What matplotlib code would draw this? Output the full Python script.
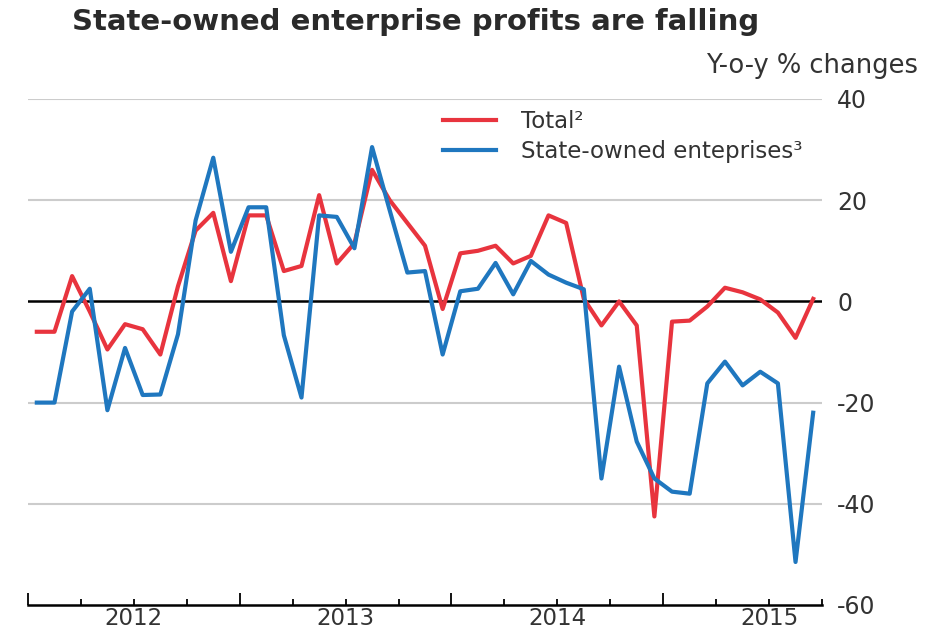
import matplotlib
matplotlib.use("Agg")
from matplotlib import pyplot as plt
from matplotlib import transforms

plt.rcParams['font.family'] = ['DejaVu Sans']

# monthly, Jan 2012 .. Sep 2015
years = [2012, 2013, 2014, 2015]
n_months = 45
total = [-6, -6, 5, -2, -9.5, -4.5, -5.5, -10.5, 3, 14, 17.5, 4,
         17, 17, 6, 7, 21, 7.5, 11.5, 26, 20, 15.5, 11, -1.5,
         9.5, 10, 11, 7.5, 9, 17, 15.5, 0.5, -4.75, 0, -4.75, -42.5,
         -4, -3.8, -1, 2.7, 1.8, 0.4, -2.2, -7.2, 0.5]
soe = [-20, -20, -2, 2.5, -21.5, -9.2, -18.5, -18.4, -6.5, 16, 28.4, 9.8,
       18.6, 18.6, -6.7, -19, 17, 16.7, 10.5, 30.5, 18, 5.7, 6, -10.5,
       2, 2.5, 7.6, 1.4, 8, 5.3, 3.7, 2.4, -35, -12.9, -27.7, -35,
       -37.6, -38, -16.2, -11.9, -16.6, -13.9, -16.2, -51.5, -22]
yticks = [-60, -40, -20, 0, 20, 40]

red = '#e8343e'
blue = '#1f77bf'
text_col = '#333333'

x = [i + 0.5 for i in range(n_months)]   # plot at mid-month

W, H = 939, 631
fig = plt.figure(figsize=(W / 100, H / 100), dpi=100)
ax = fig.add_axes([28 / W, 1 - 605 / H, (822 - 28) / W, (605 - 99) / H])

for v in yticks[1:]:
    if v == 0:
        ax.axhline(v, color='black', lw=1.8, zorder=1)
    else:
        ax.axhline(v, color='#cccccc', lw=1.5, zorder=1)

ax.plot(x, total, color=red, lw=3, label='Total²', zorder=3)
ax.plot(x, soe, color=blue, lw=3, label='State-owned enteprises³', zorder=4)

ax.set_xlim(0, n_months)
ax.set_ylim(-60, 40)

# y axis on the right, no tick marks
ax.yaxis.tick_right()
ax.set_yticks(yticks)
ax.set_yticklabels([str(v) for v in yticks])
ax.tick_params(axis='y', length=0, pad=11, labelsize=17, labelcolor=text_col)

# x axis: year boundaries (long ticks), quarters (short ticks)
ax.set_xticks([12 * i for i in range(len(years))])
ax.set_xticklabels([])
ax.set_xticks(list(range(0, n_months + 1, 3)), minor=True)
ax.tick_params(axis='x', which='major', direction='in', length=9, width=1.3, color='black')
ax.tick_params(axis='x', which='minor', direction='in', length=4.5, width=1.3, color='black')

trans = transforms.blended_transform_factory(ax.transData, fig.transFigure)
for i, yr in enumerate(years):
    ax.text(12 * i + 6, 1 - 625 / H, str(yr), transform=trans, ha='center',
            va='baseline', fontsize=16.5, color=text_col)

for s in ['top', 'left', 'right']:
    ax.spines[s].set_visible(False)
ax.spines['bottom'].set_color('black')
ax.spines['bottom'].set_linewidth(1.8)

ax.legend(loc='upper left', bbox_to_anchor=((443 - 28) / 794, 1 - 11 / 506),
          frameon=False, fontsize=16.5, handlelength=2.3, handletextpad=1.1,
          labelspacing=0.3, labelcolor=text_col, borderaxespad=0, borderpad=0)

fig.text(72 / W, 1 - 22 / H, 'State-owned enterprise profits are falling',
         fontsize=21, fontweight='bold', color='#2a2a2a', ha='left', va='center')
fig.text(918 / W, 1 - 66 / H, 'Y-o-y % changes', fontsize=18.5, color=text_col,
         ha='right', va='center')

fig.savefig('out.png', dpi=100)
